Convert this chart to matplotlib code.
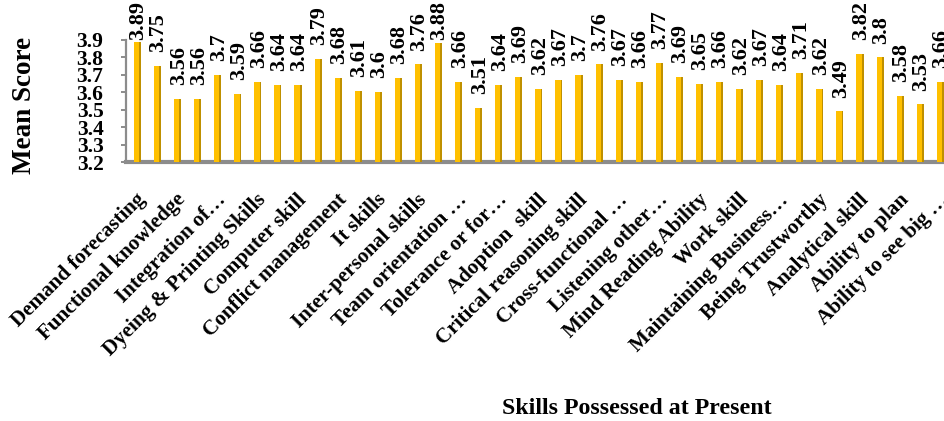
import numpy as np
import matplotlib.pyplot as plt
import matplotlib.transforms as mtransforms

plt.rcParams['font.family'] = ['Liberation Serif', 'DejaVu Serif']
plt.rcParams['font.weight'] = 'bold'

# mean score for each skill (all 41 bars)
scores = [3.89, 3.75, 3.56, 3.56, 3.7, 3.59, 3.66, 3.64, 3.64, 3.79,
          3.68, 3.61, 3.6, 3.68, 3.76, 3.88, 3.66, 3.51, 3.64, 3.69,
          3.62, 3.67, 3.7, 3.76, 3.67, 3.66, 3.77, 3.69, 3.65, 3.66,
          3.62, 3.67, 3.64, 3.71, 3.62, 3.49, 3.82, 3.8, 3.58, 3.53,
          3.66]
value_text = ['3.89', '3.75', '3.56', '3.56', '3.7', '3.59', '3.66', '3.64', '3.64', '3.79',
              '3.68', '3.61', '3.6', '3.68', '3.76', '3.88', '3.66', '3.51', '3.64', '3.69',
              '3.62', '3.67', '3.7', '3.76', '3.67', '3.66', '3.77', '3.69', '3.65', '3.66',
              '3.62', '3.67', '3.64', '3.71', '3.62', '3.49', '3.82', '3.8', '3.58', '3.53',
              '3.66']

# only every second category gets a label on the axis
shown_labels = ['Demand forecasting', 'Functional knowledge', 'Integration of…',
                'Dyeing & Printing Skills', 'Computer skill', 'Conflict management',
                'It skills', 'Inter-personal skills', 'Team orientation …',
                'Tolerance or for…', 'Adoption  skill', 'Critical reasoning skill',
                'Cross-functional …', 'Listening other…', 'Mind Reading Ability',
                'Work skill', 'Maintaining Business…', 'Being Trustworthy',
                'Analytical skill', 'Ability to plan', 'Ability to see big …']

y_ticks = [3.2, 3.3, 3.4, 3.5, 3.6, 3.7, 3.8, 3.9]

W, H, DPI = 945, 421, 100
fig = plt.figure(figsize=(W / DPI, H / DPI), dpi=DPI)
ax = fig.add_axes([126.5 / W, 1 - 162 / H, (W - 126.5) / W, (162 - 40) / H])

x = np.arange(len(scores))
base = y_ticks[0]
heights = np.array(scores) - base

# front face and darker side face for the 3-D look
ax.bar(x - 0.03, heights, width=0.26, bottom=base, color='#FFC000', zorder=3)
ax.bar(x + 0.145, heights, width=0.09, bottom=base, color='#BF9000', zorder=3)

ax.set_xlim(-0.53, 40.25)
ax.set_ylim(3.2, 3.9)
ax.set_yticks(y_ticks)
ax.set_yticklabels([f'{v:.1f}' for v in y_ticks], fontsize=15.5, fontweight='bold')
ax.set_xticks(x[::2])
ax.set_xticklabels(shown_labels, rotation=45, ha='right', rotation_mode='anchor',
                   fontsize=15.2, fontweight='bold')
ax.tick_params(axis='x', length=0, pad=20)
ax.tick_params(axis='y', length=3.6, width=1.4, color='#8C8C8C', pad=13)
shift = mtransforms.ScaledTranslation(-1 / 72, 0, fig.dpi_scale_trans)
for lab in ax.get_xticklabels():
    lab.set_transform(lab.get_transform() + shift)

for s in ['top', 'right']:
    ax.spines[s].set_visible(False)
ax.spines['left'].set_color('#8C8C8C')
ax.spines['left'].set_linewidth(1.6)
ax.spines['bottom'].set_color('#8C8C8C')
ax.spines['bottom'].set_linewidth(3)
ax.spines['bottom'].set_zorder(2)

fig.text(25 / W, 1 - 105 / H, 'Mean Score', rotation=90, ha='center', va='center',
         fontsize=19.5, fontweight='bold')
fig.text(637 / W, 1 - 408 / H, 'Skills Possessed at Present', ha='center', va='center',
         fontsize=17.2, fontweight='bold')

# value labels above the bars, pushed down if they would leave the figure
labels = []
for xi, v, t in zip(x, scores, value_text):
    a = ax.annotate(t, (xi, v), xytext=(1, 10), textcoords='offset points',
                    rotation=90, ha='center', va='bottom', fontsize=16,
                    fontweight='bold', annotation_clip=False)
    labels.append(a)

fig.canvas.draw()
r = fig.canvas.get_renderer()
for a in labels:
    bb = a.get_window_extent(r)
    if bb.y1 > H - 1:
        d = (bb.y1 - (H - 1)) * 72 / DPI
        a.xyann = (1, 10 - d)

fig.savefig('out.png', dpi=DPI)
